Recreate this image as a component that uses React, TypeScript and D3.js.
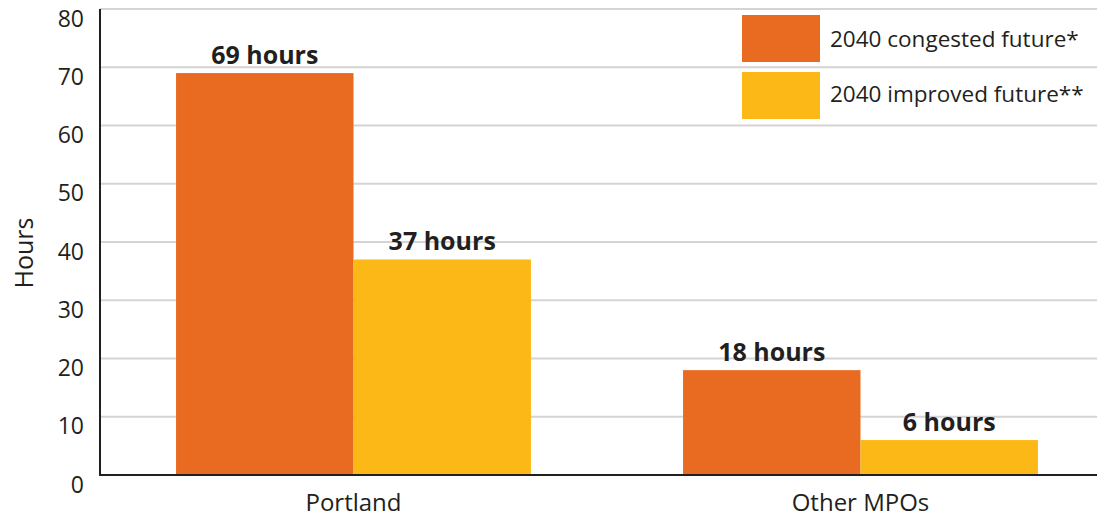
import * as React from 'react';
import * as d3 from 'd3';

const categories = ['Portland', 'Other MPOs'];
const seriesNames = ['2040 congested future*', '2040 improved future**'];
const congested = [69, 18];
const improved = [37, 6];
const valueLabels = [
  ['69 hours', '37 hours'],
  ['18 hours', '6 hours'],
];
const yTicks = [0, 10, 20, 30, 40, 50, 60, 70, 80];
const colors = ['#e96b22', '#fbb817'];

const width = 1097;
const height = 519;
const font = "'Open Sans', 'Noto Sans', sans-serif";
const ink = '#231f20';

const App = () => {
  const y = d3.scaleLinear().domain([0, 80]).range([475, 9]);
  const x0 = d3.scaleBand<string>().domain(categories).range([100, 1114]);
  const bw = x0.bandwidth();
  const x1 = d3
    .scaleBand<number>()
    .domain([0, 1])
    .range([bw * 0.15, bw * 0.85]);

  const values = categories.map((_, i) => [congested[i], improved[i]]);

  return (
    <svg
      width={width}
      height={height}
      style={{ position: 'absolute', left: 0, top: 0, fontFamily: font }}
    >
      {yTicks
        .filter((t) => t > 0)
        .map((t) => (
          <line
            key={t}
            x1={100}
            x2={width}
            y1={y(t)}
            y2={y(t)}
            stroke="#d4d4d4"
            strokeWidth={2}
          />
        ))}
      {yTicks.map((t) => (
        <text
          key={t}
          x={84}
          y={y(t) + 17.5}
          textAnchor="end"
          fontSize={23}
          fill={ink}
        >
          {t}
        </text>
      ))}
      <text
        transform={`translate(33, 253) rotate(-90)`}
        textAnchor="middle"
        fontSize={25}
        fill={ink}
      >
        Hours
      </text>

      {categories.map((c, i) => (
        <g key={c} transform={`translate(${x0(c)}, 0)`}>
          {values[i].map((v, j) => (
            <rect
              key={j}
              x={x1(j)}
              y={y(v)}
              width={x1.bandwidth()}
              height={y(0) - y(v)}
              fill={colors[j]}
            />
          ))}
          {values[i].map((v, j) => (
            <text
              key={'l' + j}
              x={(x1(j) as number) + x1.bandwidth() / 2}
              y={y(v) - 9}
              textAnchor="middle"
              fontSize={25}
              fontWeight="bold"
              fill={ink}
            >
              {valueLabels[i][j]}
            </text>
          ))}
          <text
            x={bw / 2}
            y={511}
            textAnchor="middle"
            fontSize={24}
            fill={ink}
          >
            {c}
          </text>
        </g>
      ))}

      <line x1={100} x2={width} y1={475} y2={475} stroke={ink} strokeWidth={2} />
      <line x1={100} x2={100} y1={9} y2={476} stroke={ink} strokeWidth={2} />

      {seriesNames.map((s, i) => (
        <g key={s} transform={`translate(742, ${15 + i * 57})`}>
          <rect width={78} height={47} fill={colors[i]} />
          <text x={88} y={32 - i * 2} fontSize={22.5} fill={ink}>
            {s}
          </text>
        </g>
      ))}
    </svg>
  );
};

export default App;
